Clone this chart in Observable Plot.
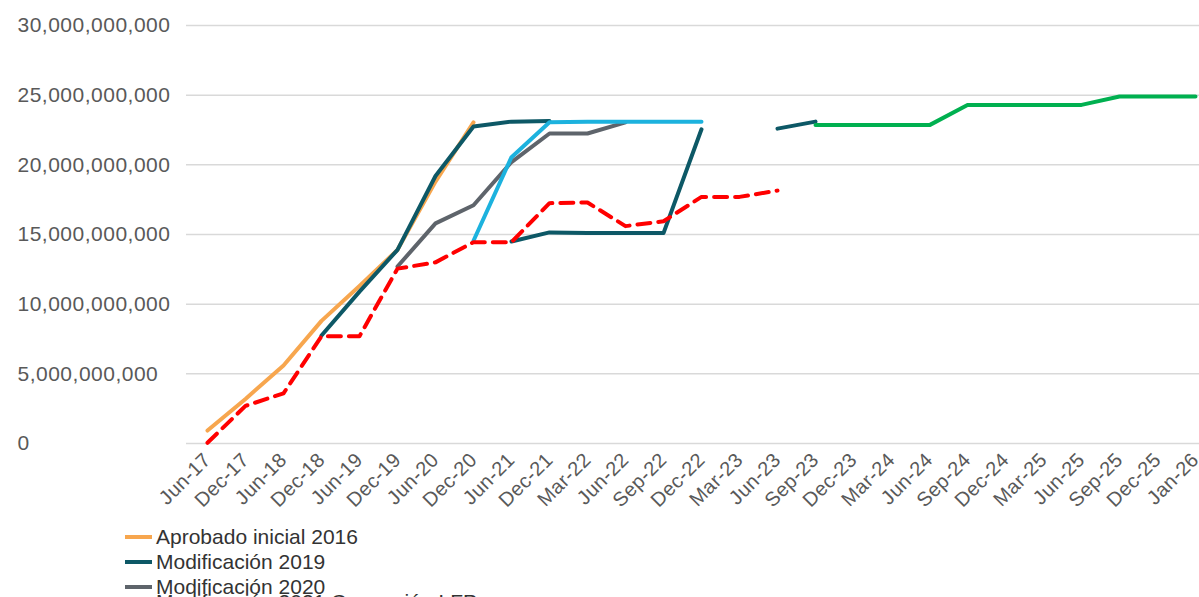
<!DOCTYPE html>
<html>
<head>
<meta charset="utf-8">
<script src="https://cdn.jsdelivr.net/npm/d3@7"></script>
<script src="https://cdn.jsdelivr.net/npm/@observablehq/plot@0.6"></script>
<style>
  html, body { margin: 0; padding: 0; background: #fff; overflow: hidden; }
  #wrap { position: relative; width: 1199px; height: 597px; overflow: hidden; font-family: "Liberation Sans", Arial, sans-serif; }
  #legend { position: absolute; left: 125px; top: 524px; font-size: 21px; color: #333; }
  .item { display: flex; align-items: center; height: 25px; white-space: nowrap; }
  .item.last { margin-top: -10px; }
  .sw { width: 27px; height: 4px; margin-right: 4px; }
</style>
</head>
<body>
<div id="wrap"><div id="chart"></div><div id="legend"></div></div>
<script>
const UNIT = 1e9;
const categories = ["Jun-17","Dec-17","Jun-18","Dec-18","Jun-19","Dec-19","Jun-20","Dec-20","Jun-21","Dec-21","Mar-22","Jun-22","Sep-22","Dec-22","Mar-23","Jun-23","Sep-23","Dec-23","Mar-24","Jun-24","Sep-24","Dec-24","Mar-25","Jun-25","Sep-25","Dec-25","Jan-26"];
const yTicks = [0, 5e9, 10e9, 15e9, 20e9, 25e9, 30e9];

// values in billions, null = no value
const aprobado2016 = [0.93, 3.2, 5.6, 8.8, 11.3, 13.9, 18.8, 23.05, null, null, null, null, null, null, null, null, null, null, null, null, null, null, null, null, null, null, null];
const modif2019    = [null, null, null, 7.75, 10.9, 13.9, 19.2, 22.75, 23.1, 23.15, null, null, null, null, null, null, null, null, null, null, null, null, null, null, null, null, null];
const modif2020    = [null, null, null, null, null, 12.7, 15.8, 17.1, 20.2, 22.25, 22.25, 23.05, null, null, null, null, null, null, null, null, null, null, null, null, null, null, null];
const modif2021    = [null, null, null, null, null, null, null, 14.55, 20.55, 23.05, 23.1, 23.1, 23.1, 23.1, null, null, null, null, null, null, null, null, null, null, null, null, null];
const modif2022    = [null, null, null, null, null, null, null, null, 14.5, 15.15, 15.1, 15.1, 15.1, 22.55, null, 22.6, 23.1, null, null, null, null, null, null, null, null, null, null];
const ejecutado    = [0.05, 2.7, 3.6, 7.7, 7.7, 12.55, 13.0, 14.45, 14.45, 17.25, 17.3, 15.6, 15.95, 17.7, 17.7, 18.15, null, null, null, null, null, null, null, null, null, null, null];
const proyeccion   = [null, null, null, null, null, null, null, null, null, null, null, null, null, null, null, null, 22.85, 22.85, 22.85, 22.85, 24.3, 24.3, 24.3, 24.3, 24.9, 24.9, 24.9];

const seriesNames = ["Aprobado inicial 2016", "Modificación 2019", "Modificación 2020", "Modificación 2021 Corrección LFP", "Modificación 2022", "Ejecutado", "Proyección"];
const seriesValues = [aprobado2016, modif2019, modif2020, modif2021, modif2022, ejecutado, proyeccion];
const seriesColors = ["#f7a64e", "#0d5866", "#5e646b", "#1cb2de", "#0d5866", "#ff0000", "#00b050"];
const legendCount = 4;

const rows = [];
seriesNames.forEach((name, s) => {
  seriesValues[s].forEach((v, i) => {
    rows.push({series: name, cat: categories[i], value: v == null ? NaN : v * UNIT});
  });
});
const solidNames = seriesNames.filter(n => n !== "Ejecutado");
const fmt = d3.format(",");

const chart = Plot.plot({
  width: 1199,
  height: 520,
  marginLeft: 186,
  marginRight: 0,
  marginTop: 25,
  marginBottom: 77,
  style: {fontFamily: "'Liberation Sans', Arial, sans-serif", background: "#fff"},
  x: {type: "point", domain: categories, range: [205, 1197], padding: 0},
  y: {domain: [0, 30e9], axis: null},
  marks: [
    Plot.ruleY(yTicks, {stroke: "#d9d9d9", strokeWidth: 1.5}),
    Plot.text(yTicks, {y: d => d, text: d => fmt(d), frameAnchor: "left", dx: -169, textAnchor: "start", fontSize: 21, fill: "#595959"}),
    Plot.axisX({tickSize: 0, tickPadding: 13, tickRotate: -45, fontSize: 20, color: "#595959", label: null}),
    ...solidNames.map(n => Plot.line(rows.filter(r => r.series === n), {
      x: "cat", y: "value", stroke: seriesColors[seriesNames.indexOf(n)], strokeWidth: 4, strokeLinejoin: "round"
    })),
    Plot.line(rows.filter(r => r.series === "Ejecutado"), {
      x: "cat", y: "value", stroke: "#ff0000", strokeWidth: 4, strokeDasharray: "13,8", strokeLinejoin: "round"
    })
  ]
});
chart.querySelectorAll("text").forEach(t => {
  if (/^\d{1,2}(,\d{3})*$/.test(t.textContent)) t.setAttribute("letter-spacing", "0.5");
  if (/^[A-Z][a-z]{2}-\d{2}$/.test(t.textContent)) t.setAttribute("letter-spacing", "0.4");
});
document.getElementById("chart").appendChild(chart);

const legend = document.getElementById("legend");
seriesNames.slice(0, legendCount).forEach((n, i) => {
  const it = document.createElement("div");
  it.className = "item" + (i === legendCount - 1 ? " last" : "");
  const sw = document.createElement("span");
  sw.className = "sw";
  sw.style.background = seriesColors[i];
  const tx = document.createElement("span");
  tx.textContent = n;
  it.appendChild(sw); it.appendChild(tx);
  legend.appendChild(it);
});
</script>
</body>
</html>
